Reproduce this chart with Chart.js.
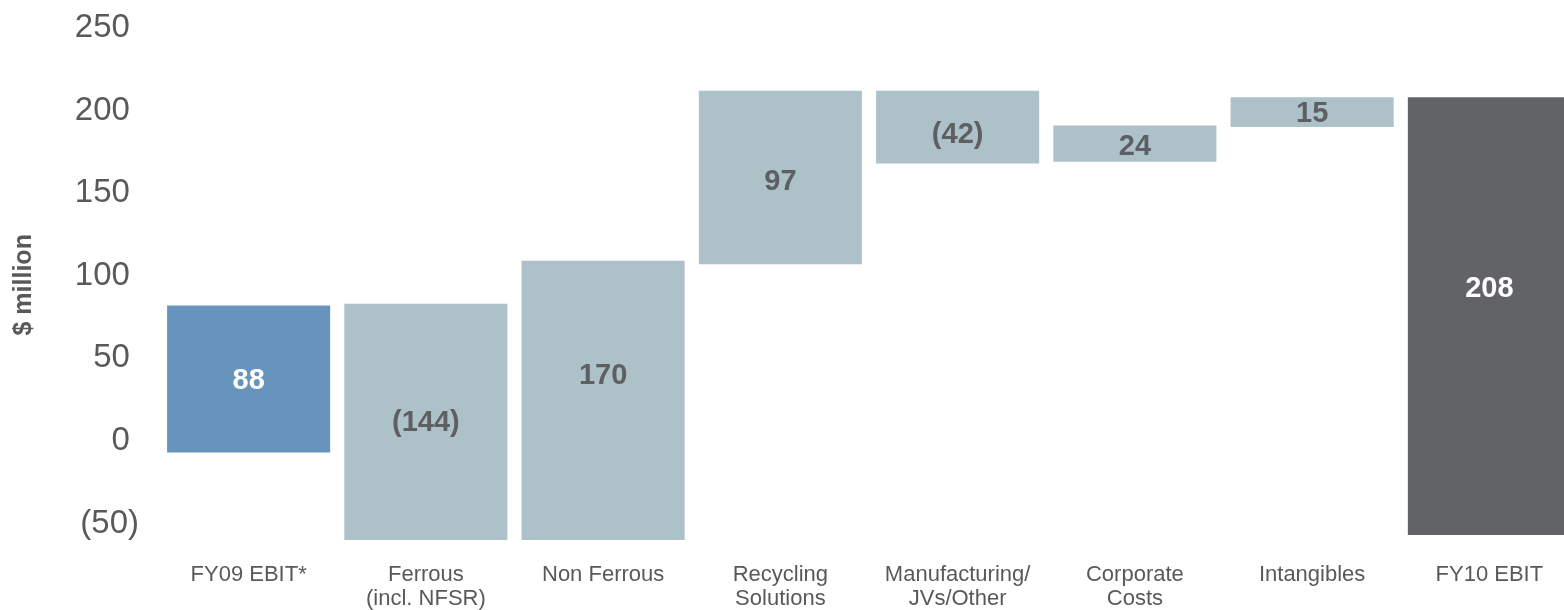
<!DOCTYPE html>
<html>
<head>
<meta charset="utf-8">
<script src="https://cdn.jsdelivr.net/npm/chart.js@4/dist/chart.umd.min.js"></script>
<style>
  html, body { margin: 0; padding: 0; background: #fff; overflow: hidden; }
  #wrap { width: 1564px; height: 610px; overflow: hidden; }
</style>
</head>
<body>
<div id="wrap"><canvas id="ebitChart" width="1578" height="610"></canvas></div>
<script>
  // Categories (multi-line labels)
  var categories = [
    'FY09 EBIT*',
    ['Ferrous', '(incl. NFSR)'],
    'Non Ferrous',
    ['Recycling', 'Solutions'],
    ['Manufacturing/', 'JVs/Other'],
    ['Corporate', 'Costs'],
    'Intangibles',
    'FY10 EBIT'
  ];

  // Movement shown on each bar ($ million)
  var movements = [88, -144, 170, 97, -42, 24, 15, 208];

  // Floating bar extents as drawn in the picture
  var barLow  = [-7, -60, -60, 107, 168, 169, 190, -57];
  var barHigh = [82, 83, 109, 212, 212, 191, 208, 208];

  // Where each value label sits (value units)
  var labelAt = [36, 11, 39, 157, 185, 178, 198, 92];

  var yTicks = [-50, 0, 50, 100, 150, 200, 250];

  var barColors = ['#6794bd', '#adc1c8', '#adc1c8', '#adc1c8', '#adc1c8', '#adc1c8', '#adc1c8', '#616367'];
  var labelColors = ['#ffffff', '#5e5f63', '#5e5f63', '#5e5f63', '#5e5f63', '#5e5f63', '#5e5f63', '#ffffff'];

  function fmt(v) {
    return v < 0 ? '(' + Math.abs(v) + ')' : String(v);
  }

  var floating = categories.map(function(c, i) { return [barLow[i], barHigh[i]]; });

  var valueLabels = {
    id: 'valueLabels',
    afterDatasetsDraw: function(chart) {
      var ctx = chart.ctx;
      var meta = chart.getDatasetMeta(0);
      var y = chart.scales.y;
      ctx.save();
      ctx.font = 'bold 29px "Liberation Sans", Arial, sans-serif';
      ctx.textAlign = 'center';
      ctx.textBaseline = 'middle';
      meta.data.forEach(function(bar, i) {
        ctx.fillStyle = labelColors[i];
        ctx.fillText(fmt(movements[i]), bar.x, y.getPixelForValue(labelAt[i]));
      });
      ctx.restore();
    }
  };

  new Chart(document.getElementById('ebitChart').getContext('2d'), {
    type: 'bar',
    data: {
      labels: categories,
      datasets: [{
        data: floating,
        backgroundColor: barColors,
        borderWidth: 0,
        barPercentage: 0.92,
        categoryPercentage: 1.0
      }]
    },
    options: {
      responsive: false,
      animation: false,
      layout: { padding: { top: 28, right: 0, bottom: -22, left: 0 } },
      plugins: {
        legend: { display: false },
        tooltip: { enabled: false }
      },
      scales: {
        x: {
          grid: { display: false, drawTicks: false },
          border: { display: false },
          ticks: {
            color: '#595959',
            padding: 21,
            maxRotation: 0,
            autoSkip: false,
            font: { family: '"Liberation Sans", Arial, sans-serif', size: 22, lineHeight: 1.1 }
          }
        },
        y: {
          min: -61,
          max: 250,
          grid: { display: false, drawTicks: false },
          border: { display: false },
          afterBuildTicks: function(scale) {
            scale.ticks = yTicks.map(function(v) { return { value: v }; });
          },
          afterFit: function(scale) {
            scale.width = 160;
            // tick padding is only meant horizontally here
            scale.paddingTop = 0;
            scale.paddingBottom = 0;
          },
          ticks: {
            color: '#595959',
            padding: 21,
            font: { family: '"Liberation Sans", Arial, sans-serif', size: 33 },
            callback: function(v) {
              return v < 0 ? '(' + Math.abs(v) + ')' : v + '\u00a0';
            }
          },
          title: {
            display: true,
            text: '$ million',
            color: '#595959',
            padding: { top: 9, bottom: 0 },
            font: { family: '"Liberation Sans", Arial, sans-serif', size: 25, weight: 'bold' }
          }
        }
      }
    },
    plugins: [valueLabels]
  });
</script>
</body>
</html>
